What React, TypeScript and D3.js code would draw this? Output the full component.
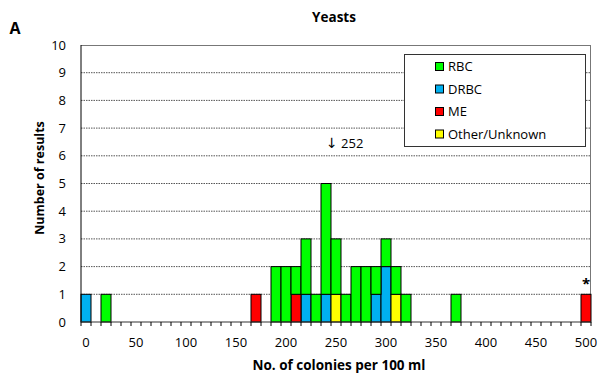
import React from "react";
import * as d3 from "d3";

const categories: number[] = d3.range(0, 510, 10);
const xTickLabels: number[] = [0, 50, 100, 150, 200, 250, 300, 350, 400, 450, 500];
const yTicks: number[] = [0, 1, 2, 3, 4, 5, 6, 7, 8, 9, 10];

const rbc: [number, number][] = [
  [20, 1], [190, 2], [200, 2], [210, 1], [220, 2], [230, 1], [240, 4], [250, 2],
  [260, 1], [270, 2], [280, 2], [290, 1], [300, 1], [310, 1], [320, 1], [370, 1],
];
const drbc: [number, number][] = [[0, 1], [220, 1], [240, 1], [290, 1], [300, 2]];
const me: [number, number][] = [[170, 1], [210, 1], [500, 1]];
const other: [number, number][] = [[250, 1], [310, 1]];

const seriesKeys = ["drbc", "me", "other", "rbc"];
const seriesData: Record<string, [number, number][]> = { drbc, me, other, rbc };
const colors: Record<string, string> = {
  rbc: "#00FF00",
  drbc: "#00B0F0",
  me: "#FF0000",
  other: "#FFFF00",
};
const legendItems = [
  { key: "rbc", label: "RBC" },
  { key: "drbc", label: "DRBC" },
  { key: "me", label: "ME" },
  { key: "other", label: "Other/Unknown" },
];

const W = 608, H = 383;
const L = 81, R = 591, T = 45, B = 322;
const FONT = "'Open Sans', 'Noto Sans', sans-serif";

export default function App() {
  const x = d3.scaleBand<number>().domain(categories).range([L, R]).padding(0);
  const y = d3.scaleLinear().domain([0, 10]).range([B, T]);

  const table = categories.map((c) => {
    const row: any = { cat: c };
    seriesKeys.forEach((k) => {
      const f = seriesData[k].find((d) => d[0] === c);
      row[k] = f ? f[1] : 0;
    });
    return row;
  });
  const stacked = d3.stack<any>().keys(seriesKeys)(table);

  const bw = x.bandwidth();
  const boundaries = d3.range(categories.length + 1).map((i) => L + i * bw);

  return (
    <svg width={W} height={H} style={{ position: "absolute", left: 0, top: 0, fontFamily: FONT }}>
      <rect x={0} y={0} width={W} height={H} fill="#fff" />
      {/* gridlines */}
      {yTicks.filter((t) => t > 0 && t < 10).map((t) => (
        <line key={t} x1={L} x2={R} y1={y(t)} y2={y(t)} stroke="#555" strokeWidth={1} strokeDasharray="1.5,1" />
      ))}
      {/* plot border */}
      <line x1={L} x2={R} y1={T + 0.5} y2={T + 0.5} stroke="#777" strokeWidth={1} />
      <line x1={R - 0.5} x2={R - 0.5} y1={T} y2={B} stroke="#777" strokeWidth={1} />
      {/* bars */}
      {stacked.map((s) =>
        s.map((d, i) =>
          d[1] - d[0] > 0 ? (
            <rect
              key={s.key + i}
              x={x(d.data.cat)!}
              y={y(d[1])}
              width={bw}
              height={y(d[0]) - y(d[1])}
              fill={colors[s.key]}
              stroke="#000"
              strokeWidth={1}
            />
          ) : null
        )
      )}
      {/* axes */}
      <line x1={L} x2={L} y1={T} y2={B} stroke="#000" strokeWidth={1} />
      <line x1={L} x2={R} y1={B} y2={B} stroke="#333" strokeWidth={1.2} />
      {boundaries.map((bx, i) => (
        <line key={i} x1={bx} x2={bx} y1={B} y2={B + 4} stroke="#000" strokeWidth={1} />
      ))}
      {yTicks.map((t) => (
        <text key={t} x={66} y={y(t)} dy="0.35em" textAnchor="end" fontSize={13} fill="#000">
          {t}
        </text>
      ))}
      {xTickLabels.map((t) => (
        <text key={t} x={x(t)! + bw / 2} y={342} dy="0.35em" textAnchor="middle" fontSize={13} fill="#000">
          {t}
        </text>
      ))}
      {/* titles */}
      <text x={15} y={28} dy="0.35em" fontSize={16} fontWeight="bold" textAnchor="middle">A</text>
      <text x={334} y={17} dy="0.35em" fontSize={13.5} fontWeight="bold" textAnchor="middle">Yeasts</text>
      <text x={339} y={365} dy="0.35em" fontSize={13.5} fontWeight="bold" textAnchor="middle">
        No. of colonies per 100 ml
      </text>
      <text
        transform={`translate(40,178) rotate(-90)`}
        dy="0.35em"
        fontSize={12.5}
        fontWeight="bold"
        textAnchor="middle"
      >
        Number of results
      </text>
      {/* annotation */}
      <text x={326} y={143} dy="0.35em" fontSize={13} fill="#000">
        <tspan fontFamily="'DejaVu Sans', sans-serif" fontSize={14}>↓</tspan> 252
      </text>
      <text x={x(500)! + bw / 2} y={284} dy="0.35em" fontSize={15} fontWeight="bold" textAnchor="middle">*</text>
      {/* legend */}
      <rect x={404.5} y={54.5} width={181} height={92} fill="#fff" stroke="#333" strokeWidth={1} />
      {legendItems.map((it, i) => (
        <g key={it.key}>
          <rect x={435.5} y={62.5 + i * 22.5} width={8} height={8} fill={colors[it.key]} stroke="#000" strokeWidth={1} />
          <text x={448} y={66.5 + i * 22.5} dy="0.35em" fontSize={13}>{it.label}</text>
        </g>
      ))}
    </svg>
  );
}
